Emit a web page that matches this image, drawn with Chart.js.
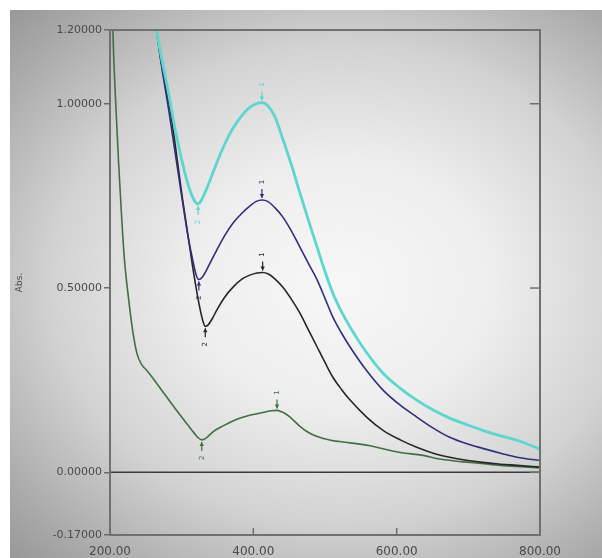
<!DOCTYPE html>
<html>
<head>
<meta charset="utf-8">
<script src="https://cdn.jsdelivr.net/npm/chart.js@4"></script>
<style>
  html, body { margin: 0; padding: 0; background: #ffffff; }
  #panel {
    position: absolute; left: 10px; top: 10px; width: 592px; height: 548px;
    background: radial-gradient(ellipse farthest-corner at 56% 50%, #f7f7f7 0%, #eeeeee 32%, #d2d2d2 62%, #a6a6a6 90%, #989898 100%);
  }
  #wrap { position: absolute; left: 0; top: 0; width: 602px; height: 558px; }
</style>
</head>
<body>
<div id="panel"></div>
<div id="wrap"><canvas id="c" width="602" height="558"></canvas></div>
<script>
// ---- data ----
const yTicks = [-0.17, 0.0, 0.5, 1.0, 1.2];
const xTicks = [200, 400, 600, 800];
const zeroLine = [0.0];

const cyanNm  = [255, 265, 280, 293, 307, 314, 319, 323, 328, 335, 349, 360, 372, 384, 395, 404, 412, 420, 430, 441, 453, 465, 477, 489, 500, 511, 523, 535, 558, 581, 605, 628, 651, 674, 697, 720, 745, 768, 800];
const cyanAbs = [1.36, 1.2, 1.046, 0.91, 0.794, 0.752, 0.733, 0.728, 0.74, 0.77, 0.84, 0.89, 0.935, 0.968, 0.99, 1.0, 1.003, 0.995, 0.965, 0.905, 0.835, 0.758, 0.683, 0.611, 0.545, 0.486, 0.436, 0.394, 0.325, 0.269, 0.228, 0.196, 0.169, 0.147, 0.13, 0.114, 0.099, 0.087, 0.063];

const blueNm  = [255, 265, 284, 298, 309, 315, 320, 324, 329, 335, 342, 349, 360, 372, 384, 395, 404, 412, 420, 430, 441, 453, 465, 477, 489, 500, 511, 523, 535, 558, 581, 605, 628, 651, 674, 697, 720, 745, 768, 800];
const blueAbs = [1.4, 1.2, 0.957, 0.775, 0.639, 0.58, 0.537, 0.523, 0.53, 0.55, 0.577, 0.603, 0.642, 0.677, 0.703, 0.722, 0.735, 0.739, 0.735, 0.718, 0.693, 0.655, 0.611, 0.566, 0.522, 0.472, 0.421, 0.378, 0.34, 0.276, 0.223, 0.182, 0.15, 0.12, 0.095, 0.078, 0.065, 0.052, 0.041, 0.032];

const blackNm  = [255, 265, 286, 302, 316, 322, 326, 330, 333, 337, 343, 349, 360, 372, 384, 395, 405, 413, 421, 430, 441, 453, 465, 477, 489, 500, 511, 523, 535, 558, 581, 605, 628, 651, 674, 697, 720, 745, 768, 800];
const blackAbs = [1.42, 1.2, 0.957, 0.731, 0.549, 0.48, 0.44, 0.408, 0.396, 0.4, 0.418, 0.44, 0.475, 0.503, 0.524, 0.535, 0.541, 0.542, 0.538, 0.525, 0.503, 0.47, 0.432, 0.386, 0.34, 0.298, 0.258, 0.225, 0.196, 0.15, 0.114, 0.088, 0.068, 0.052, 0.041, 0.033, 0.027, 0.022, 0.019, 0.014];

const greenNm  = [200, 204, 208, 212, 216, 220, 226, 232, 238, 244, 252, 262, 275, 293, 310, 318, 323, 328, 334, 345, 358, 370, 383, 395, 405, 415, 425, 433, 441, 450, 465, 477, 489, 508, 535, 561, 581, 605, 637, 660, 690, 718, 745, 768, 800];
const greenAbs = [1.6, 1.2, 1.0, 0.84, 0.7, 0.58, 0.47, 0.38, 0.32, 0.293, 0.275, 0.25, 0.215, 0.168, 0.125, 0.105, 0.094, 0.088, 0.093, 0.112, 0.126, 0.138, 0.148, 0.155, 0.159, 0.163, 0.167, 0.168, 0.163, 0.152, 0.125, 0.108, 0.097, 0.087, 0.08, 0.073, 0.064, 0.054, 0.046, 0.036, 0.029, 0.024, 0.019, 0.016, 0.012];

// peak / valley markers
const peakNm    = [412, 412, 413, 433];
const peakAbs   = [1.003, 0.739, 0.542, 0.168];
const valleyNm  = [323, 324, 333, 328];
const valleyAbs = [0.728, 0.523, 0.396, 0.088];
const peakLabels   = ["1", "1", "1", "1"];
const valleyLabels = ["2", "2", "2", "2"];

const seriesColors = ['#5dd6cf', '#2f2f7a', '#262626', '#416f41'];
const seriesWidths = [2.8, 1.6, 1.6, 1.6];

function pts(xs, ys) { return xs.map((x, i) => ({ x: x, y: ys[i] })); }

const FONT = "'DejaVu Sans', 'Liberation Sans', sans-serif";

const decor = {
  id: 'decor',
  afterDatasetsDraw(chart) {
    const { ctx, chartArea: a, scales: { x, y } } = chart;
    ctx.save();
    // zero line
    const zy = y.getPixelForValue(zeroLine[0]);
    ctx.strokeStyle = '#3a3a3a'; ctx.lineWidth = 1.5;
    ctx.beginPath(); ctx.moveTo(a.left, zy); ctx.lineTo(a.right, zy); ctx.stroke();
    // frame
    ctx.strokeStyle = '#707070'; ctx.lineWidth = 2;
    ctx.strokeRect(a.left, a.top, a.right - a.left, a.bottom - a.top);
    // right inward ticks
    ctx.lineWidth = 1.5; ctx.strokeStyle = '#707070';
    yTicks.forEach(v => {
      if (v <= yTicks[0] || v >= yTicks[yTicks.length - 1]) return;
      const py = y.getPixelForValue(v);
      ctx.beginPath(); ctx.moveTo(a.right - 10, py); ctx.lineTo(a.right, py); ctx.stroke();
    });
    // bottom inward ticks
    xTicks.forEach((v, i) => {
      if (i === 0 || i === xTicks.length - 1) return;
      const px = x.getPixelForValue(v);
      ctx.beginPath(); ctx.moveTo(px, a.bottom); ctx.lineTo(px, a.bottom - 7); ctx.stroke();
    });
    // peak / valley markers
    ctx.font = '7px ' + FONT;
    ctx.textAlign = 'center'; ctx.textBaseline = 'middle';
    function arrow(px, py, dir, col, label) {
      const tip = py + dir * 2, tail = py + dir * 11;
      ctx.strokeStyle = col; ctx.fillStyle = col; ctx.lineWidth = 1.2;
      ctx.beginPath(); ctx.moveTo(px, tail); ctx.lineTo(px, tip); ctx.stroke();
      ctx.beginPath(); ctx.moveTo(px, tip); ctx.lineTo(px - 2.2, tip + dir * 4); ctx.lineTo(px + 2.2, tip + dir * 4); ctx.closePath(); ctx.fill();
      ctx.save();
      ctx.translate(px, py + dir * 18);
      ctx.rotate(-Math.PI / 2);
      ctx.fillText(label, 0, 0);
      ctx.restore();
    }
    peakNm.forEach((n, i) => arrow(x.getPixelForValue(n), y.getPixelForValue(peakAbs[i]), -1, seriesColors[i], peakLabels[i]));
    valleyNm.forEach((n, i) => arrow(x.getPixelForValue(n), y.getPixelForValue(valleyAbs[i]), 1, seriesColors[i], valleyLabels[i]));
    ctx.restore();
  }
};

const ds = [
  [cyanNm, cyanAbs], [blueNm, blueAbs], [blackNm, blackAbs], [greenNm, greenAbs]
].map((s, i) => ({
  data: pts(s[0], s[1]),
  borderColor: seriesColors[i],
  borderWidth: seriesWidths[i],
  pointRadius: 0,
  fill: false,
  cubicInterpolationMode: 'monotone'
}));

new Chart(document.getElementById('c'), {
  type: 'line',
  data: { datasets: ds },
  options: {
    responsive: false,
    animation: false,
    events: [],
    layout: { padding: { top: 30, right: 62, bottom: 0, left: 0 } },
    plugins: { legend: { display: false }, tooltip: { enabled: false } },
    scales: {
      x: {
        type: 'linear',
        min: xTicks[0], max: xTicks[xTicks.length - 1],
        afterBuildTicks: s => { s.ticks = xTicks.map(v => ({ value: v })); },
        afterFit: s => { s.height = 23; },
        grid: { display: false },
        border: { display: false },
        ticks: {
          padding: 2, color: '#4a4a4a', maxRotation: 0,
          font: { family: FONT, size: 12 },
          callback: v => Number(v).toFixed(2)
        }
      },
      y: {
        type: 'linear',
        min: yTicks[0], max: yTicks[yTicks.length - 1],
        afterBuildTicks: s => { s.ticks = yTicks.map(v => ({ value: v })); },
        afterFit: s => { s.width = 110; },
        grid: { display: true, drawOnChartArea: false, drawTicks: true, tickLength: 6, tickColor: '#6a6a6a', lineWidth: 1.5 },
        border: { display: false },
        title: { display: true, text: 'Abs.', color: '#4a4a4a', font: { family: FONT, size: 9 }, padding: { top: 14, bottom: 0 } },
        ticks: {
          padding: 2, color: '#4a4a4a',
          font: { family: FONT, size: 11 },
          callback: v => Number(v).toFixed(5)
        }
      }
    }
  },
  plugins: [decor]
});
</script>
</body>
</html>
